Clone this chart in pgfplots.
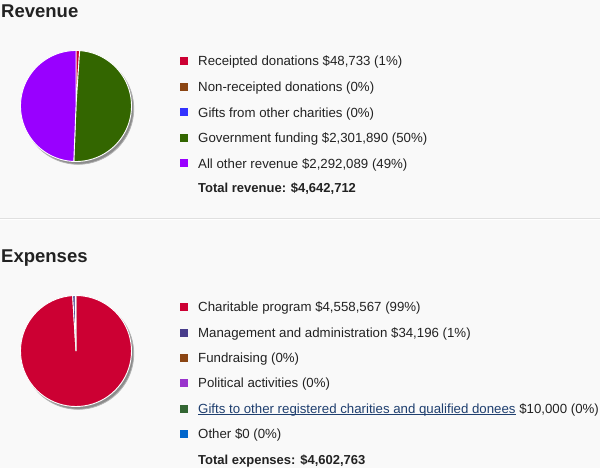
\documentclass[border=0pt]{standalone}
\usepackage{pgfplots}
\pgfplotsset{compat=1.18}
\usepackage{fontspec}
\setmainfont{Liberation Sans}
\definecolor{bg}{HTML}{F9F9F9}
\definecolor{txt}{HTML}{222222}
\definecolor{cRed}{HTML}{CC0033}
\definecolor{cBrown}{HTML}{8B4513}
\definecolor{cBlue}{HTML}{3333FF}
\definecolor{cGreen}{HTML}{336600}
\definecolor{cPurple}{HTML}{9900FF}
\definecolor{cSlate}{HTML}{483D8B}
\definecolor{cViolet}{HTML}{9933CC}
\definecolor{cGreenB}{HTML}{336633}
\definecolor{cBlueB}{HTML}{0066CC}
\definecolor{link}{HTML}{1F3F6F}
% Revenue data
\def\RevA{48733}\def\RevB{0}\def\RevC{0}\def\RevD{2301890}\def\RevE{2292089}
\def\RevTot{4642712}
% Expense data
\def\ExpA{4558567}\def\ExpB{34196}\def\ExpC{0}\def\ExpD{0}\def\ExpE{10000}\def\ExpF{0}
\def\ExpTot{4602763}
\newcommand\wedgeplot[3]{%
  \addplot[fill=#1, draw=white, line width=0.9pt, domain=#2:#3, samples=80, variable=\t]
    ({sin(t)},{cos(t)}) -- (axis cs:0,0) -- cycle;}
\newcommand\shadowplot{%
  \addplot[fill=black!45, draw=black!30, line width=0.8pt, domain=0:360, samples=120, variable=\t]
    ({0.04+sin(t)},{-0.05+cos(t)}) -- cycle;}
\pgfplotsset{piestyle/.style={hide axis, clip=false, x=55.5pt, y=55.5pt,
  xmin=-1, xmax=1, ymin=-1, ymax=1, anchor=center}}
\newcommand\lfont{\fontsize{13.25}{15}\selectfont}
\newcommand\ul[1]{\setbox0\hbox{#1}\rlap{\raisebox{-2pt}{\rule{\wd0}{0.75pt}}}\box0}
\newcommand\legitem[3]{% y, color, text
  \fill[#2] (180pt,-#1pt+4pt) rectangle (188pt,-#1pt-4pt);
  \node[anchor=base west, inner sep=0pt, text=txt, font=\lfont] at (198pt,-#1pt-4.6pt) {#3};}
\begin{document}
\begin{tikzpicture}
\fill[bg] (0pt,0pt) rectangle (600pt,-468pt);
\path[use as bounding box] (0pt,0pt) rectangle (600pt,-468pt);
\fill[black!12] (0pt,-217.5pt) rectangle (600pt,-218.5pt);
\fill[white] (0pt,-219pt) rectangle (600pt,-220pt);
% headings
\node[anchor=base west, inner sep=0pt, text=txt, font=\fontsize{18.5}{20}\bfseries] at (1pt,-18pt) {Revenue};
\node[anchor=base west, inner sep=0pt, text=txt, font=\fontsize{18.5}{20}\bfseries] at (1pt,-262.5pt) {Expenses};
% revenue pie
\edef\ra{\fpeval{360*\RevA/\RevTot}}
\edef\rb{\fpeval{360*(\RevA+\RevB+\RevC+\RevD)/\RevTot}}
\begin{axis}[piestyle, at={(76pt,-106pt)}]
\shadowplot
\wedgeplot{cRed}{0}{\ra}
\wedgeplot{cGreen}{\ra}{\rb}
\wedgeplot{cPurple}{\rb}{360}
\end{axis}
% expense pie
\edef\ea{\fpeval{360*\ExpA/\ExpTot}}
\edef\eb{\fpeval{360*(\ExpA+\ExpB)/\ExpTot}}
\edef\ec{\fpeval{360*(\ExpA+\ExpB+\ExpC+\ExpD+\ExpE)/\ExpTot}}
\begin{axis}[piestyle, at={(76pt,-351pt)}]
\shadowplot
\wedgeplot{cRed}{0}{\ea}
\wedgeplot{cSlate}{\ea}{\eb}
\wedgeplot{cGreenB}{\eb}{\ec}
\end{axis}
% revenue legend
\legitem{61}{cRed}{Receipted donations \$48,733 (1\%)}
\legitem{87}{cBrown}{Non-receipted donations (0\%)}
\legitem{112.5}{cBlue}{Gifts from other charities (0\%)}
\legitem{138}{cGreen}{Government funding \$2,301,890 (50\%)}
\legitem{163.5}{cPurple}{All other revenue \$2,292,089 (49\%)}
\node[anchor=base west, inner sep=0pt, text=txt, font=\fontsize{13}{15}\bfseries] at (198pt,-193pt) {Total revenue: \$4,642,712};
% expense legend
\legitem{307}{cRed}{Charitable program \$4,558,567 (99\%)}
\legitem{332.5}{cSlate}{Management and administration \$34,196 (1\%)}
\legitem{357.5}{cBrown}{Fundraising (0\%)}
\legitem{383}{cViolet}{Political activities (0\%)}
\legitem{408.5}{cGreenB}{\textcolor{link}{\ul{Gifts to other registered charities and qualified donees}} \$10,000 (0\%)}
\legitem{434}{cBlueB}{Other \$0 (0\%)}
\node[anchor=base west, inner sep=0pt, text=txt, font=\fontsize{13}{15}\bfseries] at (198pt,-464pt) {Total expenses: \$4,602,763};
\end{tikzpicture}
\end{document}
